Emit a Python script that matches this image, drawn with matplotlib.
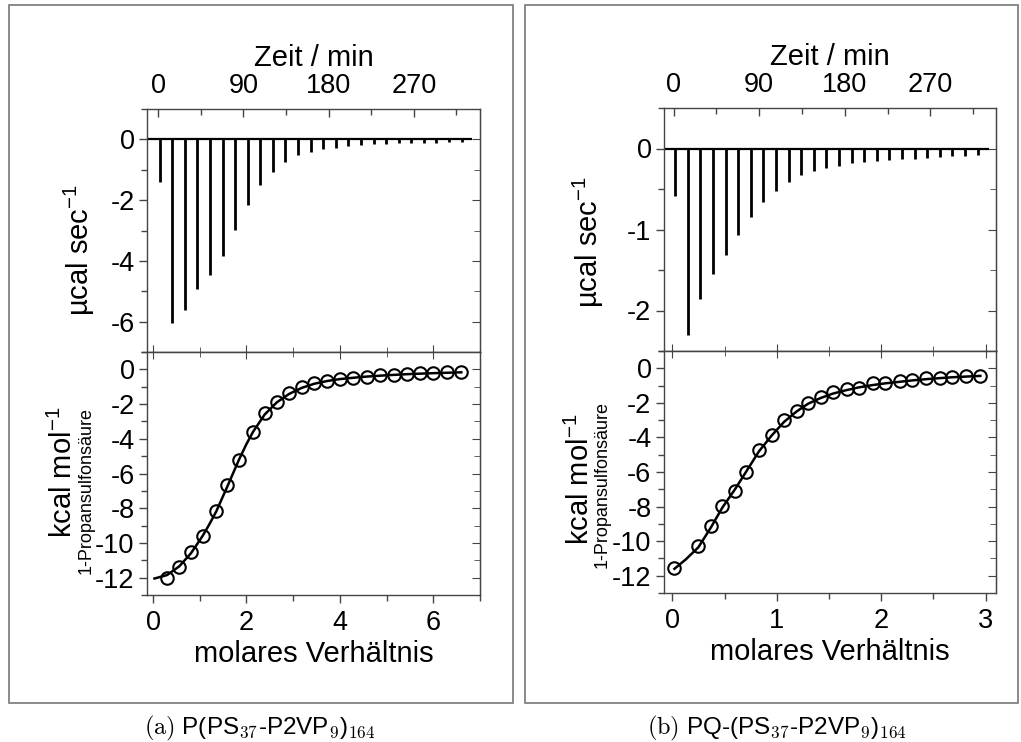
import numpy as np
import matplotlib
matplotlib.use("Agg")
import matplotlib.pyplot as plt
from matplotlib.patches import Rectangle
from matplotlib.ticker import MultipleLocator

plt.rcParams['font.family'] = ['Liberation Sans', 'DejaVu Sans']
plt.rcParams['mathtext.fontset'] = 'custom'
plt.rcParams['mathtext.rm'] = 'Liberation Sans'
plt.rcParams['mathtext.it'] = 'Liberation Sans:italic'
plt.rcParams['axes.unicode_minus'] = False

# ---- (a) P(PS37-P2VP9)164 ----
a_inj_time = [1.4, 14.7, 28.0, 41.3, 54.6, 67.9, 81.2, 94.5, 107.8, 121.1, 134.4, 147.7,
              161.0, 174.3, 187.6, 200.9, 214.2, 227.5, 240.8, 254.1, 267.4, 280.7, 294.0,
              307.3, 320.6]
a_peak = [-1.39, -6.03, -5.63, -4.92, -4.46, -3.83, -2.98, -2.15, -1.50, -1.06, -0.74, -0.52,
          -0.40, -0.33, -0.27, -0.22, -0.19, -0.16, -0.14, -0.13, -0.12, -0.11, -0.11, -0.10,
          -0.10]
a_ratio = [0.30, 0.56, 0.81, 1.06, 1.35, 1.59, 1.84, 2.14, 2.39, 2.65, 2.91, 3.18, 3.45, 3.73,
           4.00, 4.28, 4.57, 4.85, 5.16, 5.43, 5.71, 6.00, 6.30, 6.59]
a_heat = [-12.0, -11.37, -10.52, -9.58, -8.16, -6.68, -5.22, -3.63, -2.53, -1.90, -1.38, -1.04,
          -0.79, -0.65, -0.54, -0.48, -0.42, -0.35, -0.31, -0.27, -0.23, -0.21, -0.17, -0.17]
a_fit_x = [0.03, 0.30, 0.56, 0.81, 1.06, 1.20, 1.35, 1.59, 1.84, 2.00, 2.14, 2.39, 2.65, 2.91,
           3.18, 3.45, 3.73, 4.00, 4.5, 5.0, 5.5, 6.0, 6.6]
a_fit_y = [-12.05, -11.85, -11.35, -10.6, -9.6, -8.95, -8.2, -6.75, -5.2, -4.3, -3.6, -2.6,
           -1.9, -1.42, -1.07, -0.83, -0.67, -0.56, -0.43, -0.34, -0.27, -0.22, -0.17]

# ---- (b) PQ-(PS37-P2VP9)164 ----
b_inj_time = [1.75, 15.0, 28.25, 41.5, 54.75, 68.0, 81.25, 94.5, 107.75, 121.0, 134.25, 147.5,
              160.75, 174.0, 187.25, 200.5, 213.75, 227.0, 240.25, 253.5, 266.75, 280.0,
              293.25, 306.5, 319.75]
b_peak = [-0.585, -2.30, -1.86, -1.55, -1.32, -1.07, -0.84, -0.66, -0.53, -0.41, -0.33, -0.28,
          -0.236, -0.21, -0.185, -0.17, -0.16, -0.145, -0.135, -0.125, -0.112, -0.10, -0.095,
          -0.087, -0.078]
b_ratio = [0.02, 0.25, 0.37, 0.48, 0.60, 0.71, 0.83, 0.95, 1.07, 1.19, 1.30, 1.42, 1.54, 1.67,
           1.79, 1.92, 2.04, 2.18, 2.30, 2.43, 2.56, 2.68, 2.81, 2.95]
b_heat = [-11.58, -10.30, -9.15, -7.99, -7.09, -6.01, -4.72, -3.87, -2.99, -2.45, -2.02, -1.68,
          -1.39, -1.21, -1.16, -0.87, -0.83, -0.75, -0.69, -0.58, -0.56, -0.52, -0.44, -0.44]
b_fit_x = [0.02, 0.13, 0.25, 0.37, 0.48, 0.60, 0.71, 0.83, 0.95, 1.07, 1.19, 1.30, 1.42, 1.54,
           1.67, 1.79, 1.92, 2.04, 2.18, 2.30, 2.43, 2.56, 2.68, 2.81, 2.95]
b_fit_y = [-11.6, -11.05, -10.35, -9.2, -8.05, -7.0, -5.95, -4.8, -3.9, -3.1, -2.5, -2.05,
           -1.72, -1.46, -1.26, -1.1, -0.97, -0.87, -0.78, -0.7, -0.63, -0.57, -0.52, -0.48,
           -0.44]

W, H = 1021, 742
fig = plt.figure(figsize=(W / 100, H / 100), dpi=100)


def frac(x, y):
    return x / W, 1 - y / H


def box(x0, y0, x1, y1):
    # axes rectangle from pixel corners (left, top, right, bottom)
    return [x0 / W, 1 - y1 / H, (x1 - x0) / W, (y1 - y0) / H]


FRAME = '#444444'
TICK = dict(labelsize=19.5, colors='black', color=FRAME, width=1.0)


def style(ax):
    for s in ax.spines.values():
        s.set_color(FRAME)
        s.set_linewidth(1.0)


def top_panel(rect, times, peaks, ylim, ymaj, ymin_step, xlim):
    ax = fig.add_axes(rect)
    style(ax)
    ax.hlines(0, xlim[0] + 1.5, 332, color='black', lw=1.6)
    ax.vlines(times, peaks, 0, color='black', lw=2.0)
    ax.set_xlim(*xlim)
    ax.set_ylim(*ylim)
    ax.xaxis.tick_top()
    ax.xaxis.set_label_position('top')
    ax.set_xlabel('Zeit / min', fontsize=21, labelpad=5)
    ax.xaxis.set_major_locator(MultipleLocator(90))
    ax.xaxis.set_minor_locator(MultipleLocator(45))
    ax.yaxis.set_major_locator(MultipleLocator(ymaj))
    ax.yaxis.set_minor_locator(MultipleLocator(ymin_step))
    ax.tick_params(axis='x', which='both', direction='in', top=True, bottom=False, pad=7, **TICK)
    ax.tick_params(axis='x', which='major', length=6)
    ax.tick_params(axis='x', which='minor', length=4)
    ax.tick_params(axis='y', which='both', direction='out', left=True, right=False, pad=3, **TICK)
    ax.tick_params(axis='y', which='major', length=6)
    ax.tick_params(axis='y', which='minor', length=4)
    sec = ax.secondary_yaxis('right')
    sec.yaxis.set_major_locator(MultipleLocator(ymaj))
    sec.yaxis.set_minor_locator(MultipleLocator(ymin_step))
    sec.tick_params(which='both', direction='in', labelright=False, color=FRAME)
    sec.tick_params(which='major', length=6)
    sec.tick_params(which='minor', length=4)
    sec.spines['right'].set_color(FRAME)
    return ax


def bottom_panel(rect, xr, yr, fx, fy, xlim, xmaj, xmin_step):
    ax = fig.add_axes(rect)
    style(ax)
    ax.plot(fx, fy, color='black', lw=1.8, zorder=2)
    ax.plot(xr, yr, 'o', mfc='none', mec='black', mew=1.5, ms=9, zorder=3)
    ax.set_xlim(*xlim)
    ax.set_ylim(-13, 1)
    ax.set_xlabel('molares Verhältnis', fontsize=21, labelpad=3)
    ax.xaxis.set_major_locator(MultipleLocator(xmaj))
    ax.xaxis.set_minor_locator(MultipleLocator(xmin_step))
    ax.yaxis.set_major_locator(MultipleLocator(2))
    ax.yaxis.set_minor_locator(MultipleLocator(1))
    ax.tick_params(axis='both', which='both', direction='out', top=False, right=False, pad=3, **TICK)
    ax.tick_params(axis='x', pad=5)
    ax.tick_params(which='major', length=6)
    ax.tick_params(which='minor', length=4)
    secx = ax.secondary_xaxis('top')
    secx.xaxis.set_major_locator(MultipleLocator(xmaj))
    secx.xaxis.set_minor_locator(MultipleLocator(xmin_step))
    secx.tick_params(which='both', direction='inout', labeltop=False, color=FRAME)
    secx.tick_params(which='major', length=10)
    secx.tick_params(which='minor', length=7)
    secx.spines['top'].set_color('black')
    secy = ax.secondary_yaxis('right')
    secy.yaxis.set_major_locator(MultipleLocator(2))
    secy.yaxis.set_minor_locator(MultipleLocator(1))
    secy.tick_params(which='both', direction='in', labelright=False, color=FRAME)
    secy.tick_params(which='major', length=6)
    secy.tick_params(which='minor', length=4)
    secy.spines['right'].set_color(FRAME)
    return ax


# panel (a)
top_panel(box(147, 109, 480, 352), a_inj_time, a_peak, (-7, 1), 2, 1, (-12, 340))
bottom_panel(box(147, 352, 480, 595), a_ratio, a_heat, a_fit_x, a_fit_y, (-0.13, 7.0), 2, 1)

# panel (b)
top_panel(box(664, 108, 996, 351), b_inj_time, b_peak, (-2.5, 0.5), 1, 0.5, (-10, 339))
bottom_panel(box(664, 351, 996, 593), b_ratio, b_heat, b_fit_x, b_fit_y, (-0.08, 3.1), 1, 0.5)

# y axis titles
for (xu, yu), (xk, yk), (xs, ys) in [((79, 250), (63, 472), (86, 490)),
                                      ((588, 242), (580, 479), (602, 485))]:
    fig.text(*frac(xu, yu), r'µcal sec$^{-1}$', rotation=90, ha='center', va='center',
             fontsize=21)
    fig.text(*frac(xk, yk), r'kcal mol$^{-1}$', rotation=90, ha='center', va='center',
             fontsize=21)
    fig.text(*frac(xs, ys), '1-Propansulfonsäure', rotation=90, ha='center', va='center',
             fontsize=13)

# subfigure frames
for x0, x1 in [(9, 513), (525, 1018)]:
    fig.add_artist(Rectangle(frac(x0, 703), (x1 - x0) / W, 698 / H, transform=fig.transFigure,
                             fill=False, ec='#777777', lw=1.2))

# captions
fig.text(*frac(260, 734), r'$\mathrm{(a)}$ P(PS$_{37}$-P2VP$_{9}$)$_{164}$', ha='center',
         va='baseline', fontsize=17.5, math_fontfamily='cm')
fig.text(*frac(777, 734), r'$\mathrm{(b)}$ PQ-(PS$_{37}$-P2VP$_{9}$)$_{164}$', ha='center',
         va='baseline', fontsize=17.5, math_fontfamily='cm')

fig.savefig('out.png', dpi=100)
